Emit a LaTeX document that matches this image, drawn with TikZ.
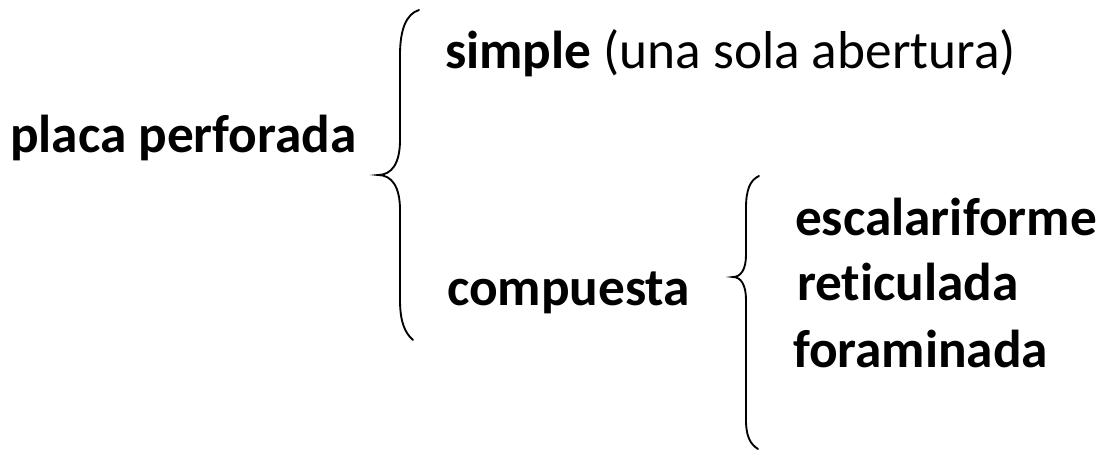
\documentclass[tikz,border=0pt]{standalone}
\usepackage{fontspec}
\setmainfont[Ligatures={CommonOff,ContextualOff}]{Carlito}
\begin{document}
\begin{tikzpicture}[x=0.75pt,y=-0.75pt,
  lbl/.style={anchor=base west,inner sep=0pt,outer sep=0pt,font=\fontsize{40}{48}\selectfont\bfseries},
  brace/.style={line width=1.4pt,line cap=round}]
\useasboundingbox (0,0) rectangle (1099,450);
\node[lbl] (placa) at (10,152) {placa perforada};
\node[lbl] (simple) at (445,68) {simple \mdseries(una sola abertura)};
\node[lbl] (comp) at (447,305) {compuesta};
\node[lbl] (esc) at (795,235) {escalariforme};
\node[lbl] (ret) at (797,300) {reticulada};
\node[lbl] (for) at (793,367) {foraminada};
\draw[brace] (419,10) .. controls (406,14) and (400,30) .. (400,55) -- (400,140)
  .. controls (400,163) and (392,175) .. (378,175)
  .. controls (392,175) and (400,187) .. (400,210) -- (400,300)
  .. controls (400,322) and (405,333) .. (413,340);
\draw[brace] (759,176) .. controls (750,180) and (746,190) .. (746,208) -- (746,255)
  .. controls (746,269) and (741,277) .. (733,277)
  .. controls (741,277) and (746,285) .. (746,300) -- (746,420)
  .. controls (746,436) and (750,444) .. (758,449);
\end{tikzpicture}
\end{document}
